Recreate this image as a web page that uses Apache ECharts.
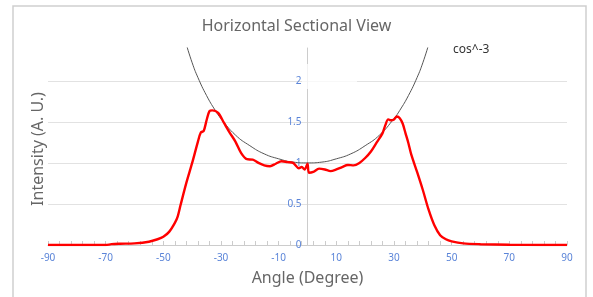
<!DOCTYPE html>
<html>
<head>
<meta charset="utf-8">
<script src="https://cdn.jsdelivr.net/npm/echarts@6/dist/echarts.min.js"></script>
<style>
  html, body { margin: 0; padding: 0; background: #fff; }
  #main { width: 593px; height: 297px; }
</style>
</head>
<body>
<div id="main"></div>
<script>
// measured profile (angle in degrees, intensity in a.u.)
var angles = [-90, -80, -70, -68, -65, -60, -55, -52, -50, -48, -46, -45, -44, -42, -40, -38, -37, -36, -35, -34, -33, -31, -29, -27, -25, -23, -21, -19, -17, -15, -13, -11, -9, -7, -5, -3, -2, -1, 0, 0.5, 2, 4, 6, 8, 10, 12, 14, 16, 18, 20, 22, 24, 26, 27, 28, 29, 30, 31, 32, 33, 34, 35, 36, 38, 40, 42, 44, 46, 48, 50, 54, 60, 70, 80, 90];
var intensity = [0, 0, 0, 0.01, 0.015, 0.02, 0.04, 0.07, 0.10, 0.16, 0.27, 0.35, 0.49, 0.76, 1.0, 1.26, 1.37, 1.39, 1.52, 1.63, 1.64, 1.61, 1.49, 1.37, 1.26, 1.12, 1.045, 1.04, 1.0, 0.97, 0.96, 0.99, 1.02, 1.01, 1.0, 0.935, 0.95, 0.92, 0.99, 0.88, 0.89, 0.93, 0.92, 0.90, 0.92, 0.95, 0.975, 0.97, 1.0, 1.06, 1.14, 1.25, 1.36, 1.46, 1.53, 1.52, 1.53, 1.565, 1.545, 1.48, 1.36, 1.24, 1.10, 0.89, 0.67, 0.43, 0.24, 0.12, 0.07, 0.045, 0.02, 0.01, 0.003, 0, 0];

// cos^-3 reference curve
var cosAngles = [-42, -40, -38, -35, -32, -30, -25, -20, -15, -10, -5, 0, 5, 10, 15, 20, 25, 30, 32, 35, 38, 40, 42];
var cosValues = [2.44, 2.22, 2.04, 1.82, 1.64, 1.54, 1.34, 1.21, 1.11, 1.05, 1.01, 1.0, 1.01, 1.05, 1.11, 1.21, 1.34, 1.54, 1.64, 1.82, 2.04, 2.22, 2.44];

var xLabels = [-90, -70, -50, -30, -10, 10, 30, 50, 70, 90];

function pairs(xs, ys) {
  var out = [];
  for (var i = 0; i < xs.length; i++) out.push([xs[i], ys[i]]);
  return out;
}

var myChart = echarts.init(document.getElementById('main'));
var fontName = 'Noto Sans';
var blue = '#5a84d8';

option = {
  animation: false,
  title: {
    text: 'Horizontal Sectional View',
    left: 'center',
    top: 13,
    textStyle: { fontFamily: fontName, fontSize: 16, fontWeight: 'normal', color: '#666' }
  },
  legend: {
    data: ['cos^-3'],
    left: 442,
    top: 39,
    itemWidth: 0,
    itemHeight: 0,
    selectedMode: false,
    textStyle: { fontFamily: fontName, fontSize: 12, color: '#333' }
  },
  grid: { left: 48, right: 26, top: 48, bottom: 52 },
  xAxis: {
    type: 'value',
    min: -90,
    max: 90,
    interval: 4,
    name: 'Angle (Degree)',
    nameLocation: 'middle',
    nameGap: 25,
    nameTextStyle: { fontFamily: fontName, fontSize: 16, color: '#666' },
    axisLine: { onZero: false, lineStyle: { color: '#ccc' } },
    axisTick: { inside: true, length: 4, lineStyle: { color: '#ccc' } },
    splitLine: { show: false },
    axisLabel: {
      fontFamily: fontName, fontSize: 10, color: blue, margin: 8,
      formatter: function (v) { return xLabels.indexOf(v) >= 0 ? String(v) : ''; }
    }
  },
  yAxis: {
    type: 'value',
    min: 0,
    max: 2.4,
    interval: 0.5,
    position: 'left',
    offset: -259.5,
    axisLine: { show: true, onZero: false, lineStyle: { color: '#ccc' } },
    axisTick: { show: false },
    splitLine: { showMaxLine: false, lineStyle: { color: '#e2e2e2' } },
    axisLabel: { fontFamily: fontName, fontSize: 10, color: blue, showMaxLabel: false, margin: 6 }
  },
  graphic: [
    {
      type: 'rect',
      shape: { x: 13, y: 6, width: 573, height: 300 },
      style: { fill: 'none', stroke: '#cfcfcf', lineWidth: 1.5 },
      silent: true
    },
    {
      type: 'rect',
      shape: { x: 302, y: 64, width: 55, height: 25 },
      style: { fill: 'rgba(255,255,255,0.75)' },
      z: 50,
      silent: true
    },
    {
      type: 'text',
      x: 38,
      y: 149,
      rotation: Math.PI / 2,
      style: {
        text: 'Intensity (A. U.)',
        fontFamily: fontName, fontSize: 16, fill: '#666',
        align: 'center', verticalAlign: 'middle'
      }
    }
  ],
  series: [
    {
      name: 'cos^-3',
      type: 'line',
      smooth: true,
      showSymbol: false,
      data: pairs(cosAngles, cosValues),
      lineStyle: { color: '#555', width: 1 },
      itemStyle: { color: '#555' },
      z: 2
    },
    {
      name: 'Intensity',
      type: 'line',
      smooth: 0.3,
      showSymbol: false,
      data: pairs(angles, intensity),
      lineStyle: { color: '#ff0000', width: 2.4 },
      itemStyle: { color: '#ff0000' },
      z: 3
    }
  ]
};

myChart.setOption(option);
</script>
</body>
</html>
